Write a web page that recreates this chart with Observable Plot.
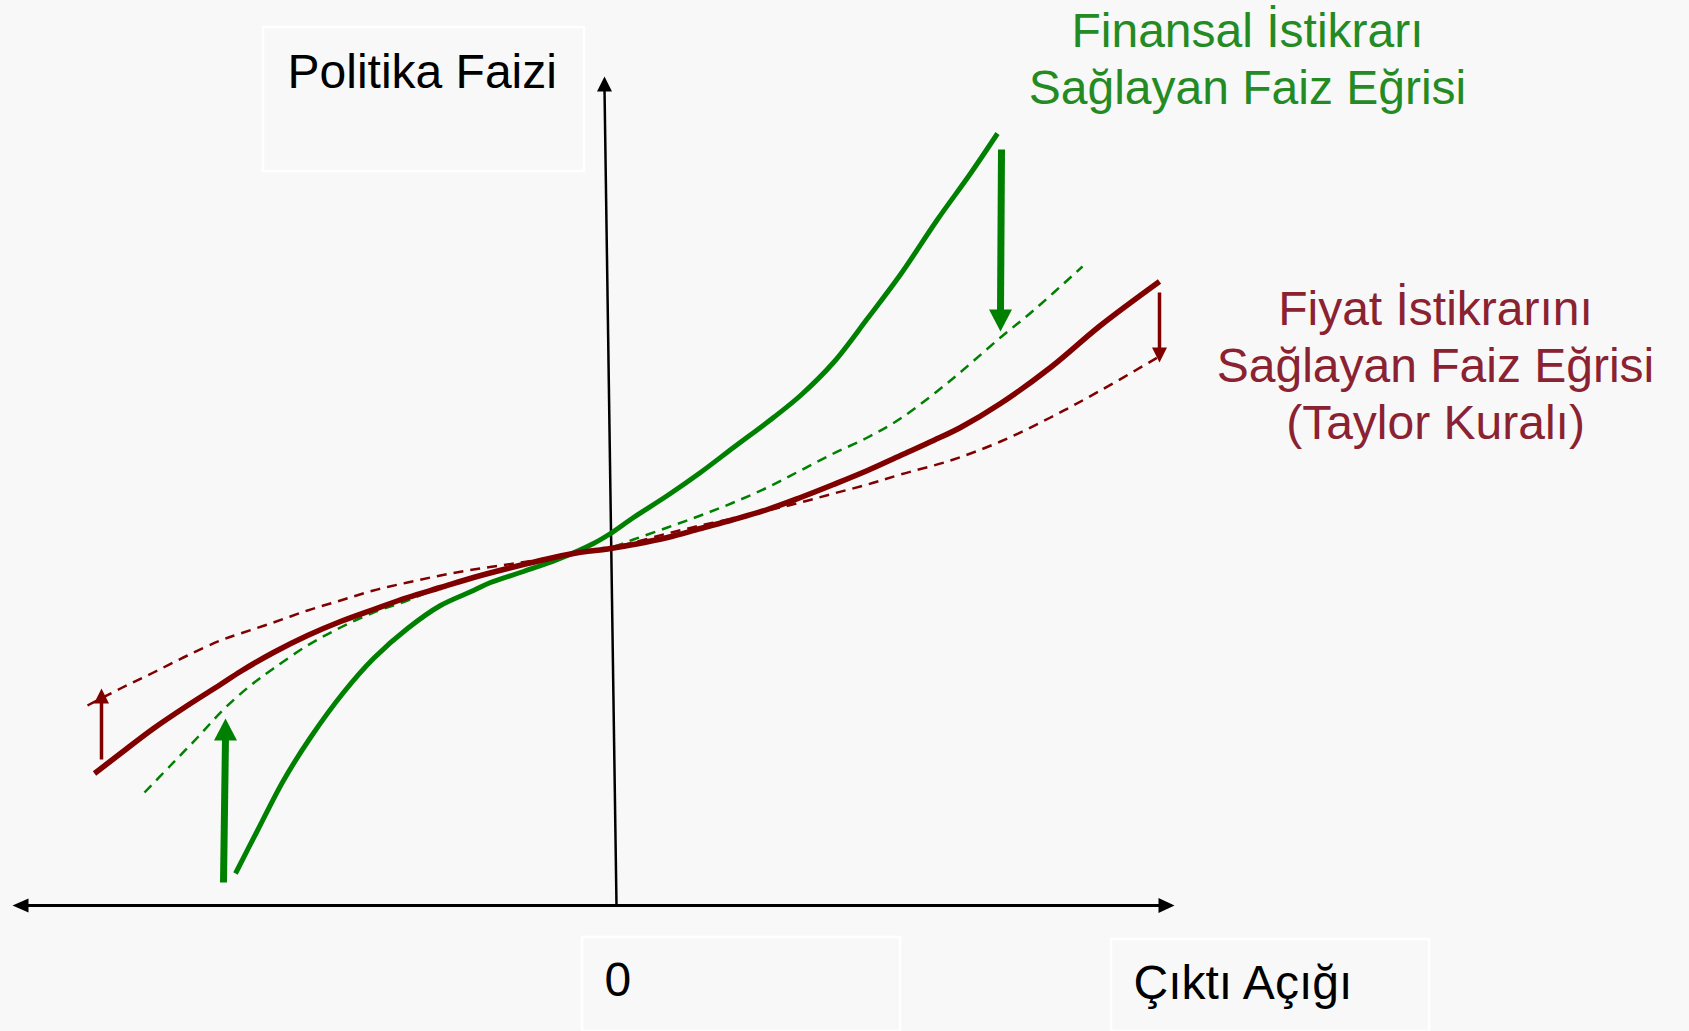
<!DOCTYPE html>
<html>
<head>
<meta charset="utf-8">
<script src="https://cdn.jsdelivr.net/npm/d3@7"></script>
<script src="https://cdn.jsdelivr.net/npm/@observablehq/plot@0.6"></script>
<style>
  html, body { margin: 0; padding: 0; background: #f8f8f8; overflow: hidden; }
  #chart svg { display: block; }
</style>
</head>
<body>
<div id="chart"></div>
<script>
// ---- Data (x: output gap, y: policy rate; arbitrary units) ----
const financialCurve = [
  [-7.62, 0.64], [-7.18, 1.50], [-6.66, 2.50], [-6.12, 3.36], [-5.46, 4.26],
  [-4.86, 4.94], [-4.18, 5.54], [-3.52, 6.00], [-2.86, 6.30], [-2.52, 6.46],
  [-1.86, 6.68], [-1.18, 6.92], [-0.46, 7.24], [-0.12, 7.44], [0.34, 7.76],
  [1.02, 8.20], [1.68, 8.66], [2.34, 9.16], [3.14, 9.76], [3.68, 10.20],
  [4.34, 10.86], [5.02, 11.74], [5.68, 12.62], [6.42, 13.72], [7.08, 14.64],
  [7.62, 15.44]
];
const financialCurveShifted = [
  [-9.44, 2.26], [-8.92, 2.80], [-8.38, 3.36], [-7.86, 3.92], [-7.32, 4.40],
  [-6.86, 4.74], [-6.18, 5.20], [-5.52, 5.56], [-4.86, 5.86], [-4.18, 6.10],
  [-3.52, 6.36], [-2.86, 6.56], [-2.18, 6.74], [-1.52, 6.90], [-0.86, 7.04],
  [-0.12, 7.16], [0.34, 7.32], [1.02, 7.56], [1.68, 7.80], [2.34, 8.06],
  [3.02, 8.36], [3.68, 8.70], [4.34, 9.04], [5.02, 9.36], [5.68, 9.74],
  [6.68, 10.50], [7.68, 11.36], [8.34, 11.90], [9.32, 12.78]
];
const taylorCurve = [
  [-10.44, 2.64], [-9.92, 3.04], [-9.26, 3.54], [-8.58, 4.00], [-7.92, 4.42],
  [-7.52, 4.68], [-6.86, 5.06], [-6.18, 5.40], [-5.52, 5.68], [-4.86, 5.92],
  [-4.18, 6.16], [-3.52, 6.36], [-2.86, 6.56], [-2.18, 6.74], [-1.52, 6.90],
  [-0.86, 7.04], [-0.12, 7.14], [0.34, 7.22], [1.02, 7.36], [1.68, 7.54],
  [2.34, 7.72], [3.02, 7.92], [3.68, 8.16], [4.34, 8.42], [5.02, 8.70],
  [5.68, 9.00], [6.34, 9.30], [6.88, 9.56], [7.68, 10.04], [8.68, 10.76],
  [9.68, 11.60], [10.86, 12.48]
];
const taylorCurveShifted = [
  [-10.58, 4.00], [-9.92, 4.34], [-9.26, 4.66], [-8.58, 5.00], [-7.92, 5.30],
  [-7.52, 5.44], [-6.86, 5.66], [-6.18, 5.90], [-5.52, 6.10], [-4.86, 6.30],
  [-4.18, 6.46], [-3.52, 6.60], [-2.86, 6.72], [-2.18, 6.82], [-1.52, 6.92],
  [-0.86, 7.02], [-0.12, 7.16], [0.34, 7.26], [1.02, 7.44], [1.68, 7.60],
  [2.34, 7.74], [3.02, 7.90], [3.68, 8.06], [4.34, 8.24], [5.02, 8.42],
  [5.68, 8.62], [6.68, 8.90], [7.68, 9.28], [8.68, 9.76], [9.68, 10.30],
  [10.82, 10.96]
];
// shift arrows: start -> tip
const shiftArrows = [
  {curve: "financial", x1: -7.86, y1: 0.46, x2: -7.82, y2: 3.74},
  {curve: "financial", x1: 7.70, y1: 15.12, x2: 7.68, y2: 11.48},
  {curve: "taylor", x1: -10.30, y1: 2.92, x2: -10.30, y2: 4.34},
  {curve: "taylor", x1: 10.86, y1: 12.26, x2: 10.86, y2: 10.86}
];
// axes: x axis (double-headed) and y axis (tip at top)
const xAxisEnds = [-12.08, 11.16];
const yAxisLine = {x1: 0, y1: 0, x2: -0.24, y2: 16.58};
// text boxes and labels
const labelBoxes = [
  {x1: -7.06, x2: -0.64, y1: 14.68, y2: 17.56},
  {x1: -0.68, x2: 5.68, y1: -2.52, y2: -0.64},
  {x1: 9.90, x2: 16.26, y1: -2.52, y2: -0.68}
];
const axisLabels = [
  {x: -6.58, y: 16.36, text: "Politika Faizi"},
  {x: -0.24, y: -1.80, text: "0"},
  {x: 10.34, y: -1.86, text: "Çıktı Açığı"}
];
const financialTitle = [
  {x: 12.62, y: 17.18, text: "Finansal İstikrarı"},
  {x: 12.62, y: 16.04, text: "Sağlayan Faiz Eğrisi"}
];
const taylorTitle = [
  {x: 16.38, y: 11.62, text: "Fiyat İstikrarını"},
  {x: 16.38, y: 10.48, text: "Sağlayan Faiz Eğrisi"},
  {x: 16.38, y: 9.34, text: "(Taylor Kuralı)"}
];

// ---- Styles ----
const W = 1689, H = 1031;
const xDomain = [-616 / 50, (W - 616) / 50];
const yDomain = [(905 - H) / 50, 905 / 50];
const pxPerUnit = W / (xDomain[1] - xDomain[0]);
const GREEN = "#008000", RED = "#800000";
const GREEN_TEXT = "#248b24", RED_TEXT = "#8a2232";
const arrowStyle = {
  financial: {color: GREEN, width: 7, len: 22, wid: 23},
  taylor: {color: RED, width: 3.5, len: 15, wid: 15}
};

function headSymbol(dir, len, wid) {
  const h = wid / 2;
  return {
    draw(ctx) {
      if (dir === "up") { ctx.moveTo(0, 0); ctx.lineTo(h, len); ctx.lineTo(-h, len); }
      else if (dir === "down") { ctx.moveTo(0, 0); ctx.lineTo(h, -len); ctx.lineTo(-h, -len); }
      else if (dir === "left") { ctx.moveTo(0, 0); ctx.lineTo(len, h); ctx.lineTo(len, -h); }
      else { ctx.moveTo(0, 0); ctx.lineTo(-len, h); ctx.lineTo(-len, -h); }
      ctx.closePath();
    }
  };
}

const marks = [];

// label boxes
marks.push(Plot.rect(labelBoxes, {x1: "x1", x2: "x2", y1: "y1", y2: "y2", fill: "none", stroke: "#ffffff", strokeWidth: 2.5}));

// axes
const axHead = 15;
marks.push(Plot.link([{a: xAxisEnds[0] + axHead * 0.8 / pxPerUnit, b: xAxisEnds[1] - axHead * 0.8 / pxPerUnit}],
  {x1: "a", x2: "b", y1: () => 0, y2: () => 0, stroke: "#000", strokeWidth: 3}));
marks.push(Plot.dot([{x: xAxisEnds[0], y: 0}], {x: "x", y: "y", r: 5, symbol: headSymbol("left", 16, 14), fill: "#000", stroke: "none"}));
marks.push(Plot.dot([{x: xAxisEnds[1], y: 0}], {x: "x", y: "y", r: 5, symbol: headSymbol("right", 16, 15), fill: "#000", stroke: "none"}));
marks.push(Plot.link([yAxisLine], {x1: "x1", y1: "y1", x2: "x2", y2: d => d.y2 - 12 / pxPerUnit, stroke: "#000", strokeWidth: 2.5}));
marks.push(Plot.dot([yAxisLine], {x: "x2", y: "y2", r: 5, symbol: headSymbol("up", 15, 15), fill: "#000", stroke: "none"}));

// curves
const lineOpts = {x: d => d[0], y: d => d[1], curve: "catmull-rom", strokeLinecap: "butt", strokeLinejoin: "round"};
marks.push(Plot.line(taylorCurveShifted, {...lineOpts, stroke: RED, strokeWidth: 2.5, strokeDasharray: "10,7"}));
marks.push(Plot.line(financialCurveShifted, {...lineOpts, stroke: GREEN, strokeWidth: 2.5, strokeDasharray: "10,7"}));
marks.push(Plot.line(financialCurve, {...lineOpts, stroke: GREEN, strokeWidth: 5}));
marks.push(Plot.line(taylorCurve, {...lineOpts, stroke: RED, strokeWidth: 5.5}));

// shift arrows
for (const a of shiftArrows) {
  const s = arrowStyle[a.curve];
  const up = a.y2 > a.y1;
  const back = (s.len * 0.85) / pxPerUnit;
  marks.push(Plot.link([a], {x1: "x1", y1: "y1", x2: "x2", y2: d => d.y2 + (up ? -back : back),
    stroke: s.color, strokeWidth: s.width}));
  marks.push(Plot.dot([a], {x: "x2", y: "y2", r: 5, symbol: headSymbol(up ? "up" : "down", s.len, s.wid), fill: s.color, stroke: "none"}));
}

// texts
const font = "'Liberation Sans', Arial, Helvetica, sans-serif";
marks.push(Plot.text(axisLabels, {x: "x", y: "y", text: "text", textAnchor: "start", lineAnchor: "bottom", fontSize: 48, fill: "#000"}));
marks.push(Plot.text(financialTitle, {x: "x", y: "y", text: "text", textAnchor: "middle", lineAnchor: "bottom", fontSize: 48, fill: GREEN_TEXT}));
marks.push(Plot.text(taylorTitle, {x: "x", y: "y", text: "text", textAnchor: "middle", lineAnchor: "bottom", fontSize: 48, fill: RED_TEXT}));

const chart = Plot.plot({
  width: W,
  height: H,
  margin: 0,
  x: {domain: xDomain, axis: null},
  y: {domain: yDomain, axis: null},
  style: {background: "#f8f8f8", fontFamily: font, overflow: "visible"},
  marks
});
document.getElementById("chart").appendChild(chart);
</script>
</body>
</html>
